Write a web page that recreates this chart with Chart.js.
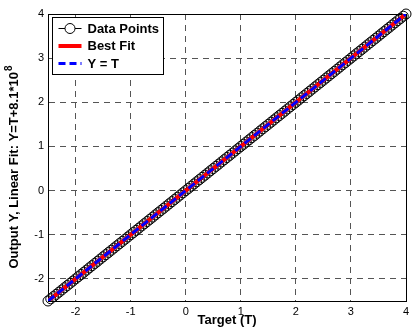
<!DOCTYPE html>
<html lang="en">
<head>
    <meta charset="UTF-8">
    <title>Regression: Output vs Target</title>
    <script src="https://cdn.jsdelivr.net/npm/chart.js"></script>
    <style>
        html, body { margin: 0; padding: 0; background: #fff; }
        #wrap { width: 412px; height: 334px; }
    </style>
</head>
<body>
    <div id="wrap"><canvas id="chartRegresion"></canvas></div>

    <script>
        // Targets and network outputs (Y = T to display precision)
        const targets = [
            -2.50, -2.45, -2.40, -2.35, -2.30, -2.25, -2.20, -2.15, -2.10, -2.05,
            -2.00, -1.95, -1.90, -1.85, -1.80, -1.75, -1.70, -1.65, -1.60, -1.55,
            -1.50, -1.45, -1.40, -1.35, -1.30, -1.25, -1.20, -1.15, -1.10, -1.05,
            -1.00, -0.95, -0.90, -0.85, -0.80, -0.75, -0.70, -0.65, -0.60, -0.55,
            -0.50, -0.45, -0.40, -0.35, -0.30, -0.25, -0.20, -0.15, -0.10, -0.05,
            0.00, 0.05, 0.10, 0.15, 0.20, 0.25, 0.30, 0.35, 0.40, 0.45,
            0.50, 0.55, 0.60, 0.65, 0.70, 0.75, 0.80, 0.85, 0.90, 0.95,
            1.00, 1.05, 1.10, 1.15, 1.20, 1.25, 1.30, 1.35, 1.40, 1.45,
            1.50, 1.55, 1.60, 1.65, 1.70, 1.75, 1.80, 1.85, 1.90, 1.95,
            2.00, 2.05, 2.10, 2.15, 2.20, 2.25, 2.30, 2.35, 2.40, 2.45,
            2.50, 2.55, 2.60, 2.65, 2.70, 2.75, 2.80, 2.85, 2.90, 2.95,
            3.00, 3.05, 3.10, 3.15, 3.20, 3.25, 3.30, 3.35, 3.40, 3.45,
            3.50, 3.55, 3.60, 3.65, 3.70, 3.75, 3.80, 3.85, 3.90, 3.95,
            4.00
        ];
        const outputs = [
            -2.50, -2.45, -2.40, -2.35, -2.30, -2.25, -2.20, -2.15, -2.10, -2.05,
            -2.00, -1.95, -1.90, -1.85, -1.80, -1.75, -1.70, -1.65, -1.60, -1.55,
            -1.50, -1.45, -1.40, -1.35, -1.30, -1.25, -1.20, -1.15, -1.10, -1.05,
            -1.00, -0.95, -0.90, -0.85, -0.80, -0.75, -0.70, -0.65, -0.60, -0.55,
            -0.50, -0.45, -0.40, -0.35, -0.30, -0.25, -0.20, -0.15, -0.10, -0.05,
            0.00, 0.05, 0.10, 0.15, 0.20, 0.25, 0.30, 0.35, 0.40, 0.45,
            0.50, 0.55, 0.60, 0.65, 0.70, 0.75, 0.80, 0.85, 0.90, 0.95,
            1.00, 1.05, 1.10, 1.15, 1.20, 1.25, 1.30, 1.35, 1.40, 1.45,
            1.50, 1.55, 1.60, 1.65, 1.70, 1.75, 1.80, 1.85, 1.90, 1.95,
            2.00, 2.05, 2.10, 2.15, 2.20, 2.25, 2.30, 2.35, 2.40, 2.45,
            2.50, 2.55, 2.60, 2.65, 2.70, 2.75, 2.80, 2.85, 2.90, 2.95,
            3.00, 3.05, 3.10, 3.15, 3.20, 3.25, 3.30, 3.35, 3.40, 3.45,
            3.50, 3.55, 3.60, 3.65, 3.70, 3.75, 3.80, 3.85, 3.90, 3.95,
            4.00
        ];

        // End points of the fitted line and of the identity line
        const fitT = [-2.5, 4];
        const fitY = [-2.5, 4];
        const idT = [-2.5, 4];
        const idY = [-2.5, 4];

        // Axis ticks
        const xTicks = [-2, -1, 0, 1, 2, 3, 4];
        const yTicks = [-2, -1, 0, 1, 2, 3, 4];

        const legendLabels = ['Data Points', 'Best Fit', 'Y = T'];
        const yTitle = 'Output Y, Linear Fit: Y=T+8.1*10';
        const yTitleExp = '8';

        const FONT = '"Liberation Sans", Arial, Helvetica, sans-serif';

        const toPoints = (xs, ys) => xs.map((x, i) => ({ x: x, y: ys[i] }));

        // solid box around the plot area (grid lines are dashed)
        const framePlugin = {
            id: 'frame',
            beforeDatasetsDraw(chart) {
                const { ctx, chartArea: a } = chart;
                ctx.save();
                ctx.strokeStyle = '#000';
                ctx.lineWidth = 1;
                ctx.setLineDash([]);
                ctx.strokeRect(Math.round(a.left) + 0.5, Math.round(a.top) + 0.5,
                    Math.round(a.right - a.left), Math.round(a.bottom - a.top));
                ctx.restore();
            }
        };

        // rotated y title with the exponent raised
        const yTitlePlugin = {
            id: 'yTitle',
            afterDraw(chart) {
                const { ctx } = chart;
                ctx.save();
                ctx.translate(14, 167);
                ctx.rotate(-Math.PI / 2);
                ctx.fillStyle = '#000';
                ctx.textBaseline = 'middle';
                ctx.font = 'bold 13px ' + FONT;
                const w1 = ctx.measureText(yTitle).width;
                ctx.font = 'bold 10px ' + FONT;
                const w2 = ctx.measureText(yTitleExp).width;
                const start = -(w1 + w2 + 1) / 2;
                ctx.font = 'bold 13px ' + FONT;
                ctx.textAlign = 'left';
                ctx.fillText(yTitle, start, 0);
                ctx.font = 'bold 10px ' + FONT;
                ctx.fillText(yTitleExp, start + w1 + 1, -5);
                ctx.restore();
            }
        };

        // legend box in the upper left corner
        const legendPlugin = {
            id: 'boxLegend',
            afterDraw(chart) {
                const { ctx, chartArea: a } = chart;
                const x0 = Math.round(a.left) + 4.5, y0 = Math.round(a.top) + 3.5;
                const w = 111, h = 57;
                ctx.save();
                ctx.fillStyle = '#fff';
                ctx.fillRect(x0, y0, w, h);
                ctx.strokeStyle = '#000';
                ctx.lineWidth = 1;
                ctx.strokeRect(x0, y0, w, h);

                const rows = [y0 + 11, y0 + 28.5, y0 + 46];
                const lx1 = x0 + 6, lx2 = x0 + 29;

                // Data Points
                ctx.beginPath();
                ctx.moveTo(lx1, rows[0]); ctx.lineTo(lx2, rows[0]);
                ctx.stroke();
                ctx.beginPath();
                ctx.arc((lx1 + lx2) / 2, rows[0], 5, 0, Math.PI * 2);
                ctx.fillStyle = '#fff';
                ctx.fill();
                ctx.stroke();

                // Best Fit
                ctx.strokeStyle = '#ff0000';
                ctx.lineWidth = 4;
                ctx.beginPath();
                ctx.moveTo(lx1, rows[1]); ctx.lineTo(lx2, rows[1]);
                ctx.stroke();

                // Y = T
                ctx.strokeStyle = '#0000ff';
                ctx.lineWidth = 3;
                ctx.setLineDash([7, 4]);
                ctx.beginPath();
                ctx.moveTo(lx1, rows[2]); ctx.lineTo(lx2, rows[2]);
                ctx.stroke();
                ctx.setLineDash([]);

                ctx.fillStyle = '#000';
                ctx.font = 'bold 13px ' + FONT;
                ctx.textBaseline = 'middle';
                legendLabels.forEach((t, i) => ctx.fillText(t, x0 + 35, rows[i] + 0.5));
                ctx.restore();
            }
        };

        const fixScale = size => scale => {
            if (scale.isHorizontal()) scale.height = size; else scale.width = size;
            scale.paddingLeft = 0;
            scale.paddingRight = 0;
            scale.paddingTop = 0;
            scale.paddingBottom = 0;
        };

        const ctx = document.getElementById('chartRegresion').getContext('2d');
        new Chart(ctx, {
            type: 'scatter',
            data: {
                datasets: [
                    {
                        label: legendLabels[2],
                        data: toPoints(idT, idY),
                        showLine: true,
                        borderColor: '#0000ff',
                        borderWidth: 3,
                        borderDash: [8, 4],
                        pointRadius: 0
                    },
                    {
                        label: legendLabels[1],
                        data: toPoints(fitT, fitY),
                        showLine: true,
                        borderColor: '#ff0000',
                        borderWidth: 4,
                        pointRadius: 0
                    },
                    {
                        label: legendLabels[0],
                        data: toPoints(targets, outputs),
                        showLine: false,
                        pointStyle: 'circle',
                        pointRadius: 5,
                        pointBorderWidth: 1,
                        pointBorderColor: '#000',
                        pointBackgroundColor: 'rgba(0,0,0,0)',
                        clip: false
                    }
                ]
            },
            options: {
                responsive: true,
                maintainAspectRatio: false,
                animation: false,
                devicePixelRatio: 1,
                layout: { padding: { top: 14, right: 2, left: 0, bottom: 0 } },
                plugins: {
                    legend: { display: false },
                    tooltip: { enabled: false }
                },
                scales: {
                    x: {
                        type: 'linear',
                        min: -2.5,
                        max: 4,
                        afterBuildTicks: s => { s.ticks = xTicks.map(v => ({ value: v })); },
                        afterFit: fixScale(33),
                        grid: { color: '#555', lineWidth: 1, drawTicks: false },
                        border: { display: true, color: '#000', width: 1, dash: [6, 5] },
                        ticks: {
                            color: '#000',
                            padding: 4,
                            maxRotation: 0,
                            font: { family: FONT, size: 11 }
                        },
                        title: {
                            display: true,
                            text: 'Target (T)',
                            color: '#000',
                            font: { family: FONT, size: 13, weight: 'bold' },
                            padding: { top: 0, bottom: 6 }
                        }
                    },
                    y: {
                        type: 'linear',
                        min: -2.5,
                        max: 4,
                        afterBuildTicks: s => { s.ticks = yTicks.map(v => ({ value: v })); },
                        afterFit: fixScale(48),
                        grid: { color: '#555', lineWidth: 1, drawTicks: false },
                        border: { display: true, color: '#000', width: 1, dash: [6, 5] },
                        ticks: {
                            color: '#000',
                            padding: 4,
                            font: { family: FONT, size: 11 }
                        },
                        title: { display: false }
                    }
                }
            },
            plugins: [framePlugin, yTitlePlugin, legendPlugin]
        });
    </script>
</body>
</html>
